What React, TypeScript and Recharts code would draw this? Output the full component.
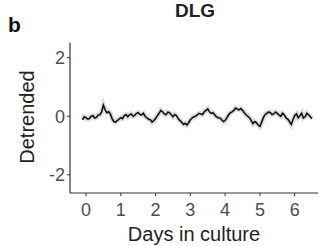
import React from 'react';
import { LineChart, Line, XAxis, YAxis } from 'recharts';

const days = [
  -0.1, -0.05, 0.0, 0.05, 0.1, 0.15, 0.2, 0.25, 0.3, 0.35, 0.4, 0.45, 0.5, 0.55, 0.6, 0.65, 0.7, 0.75, 0.8, 0.85, 0.9, 0.95,
  1.0, 1.05, 1.1, 1.15, 1.2, 1.25, 1.3, 1.35, 1.4, 1.45, 1.5, 1.55, 1.6, 1.65, 1.7, 1.75, 1.8, 1.85, 1.9, 1.95,
  2.0, 2.05, 2.1, 2.15, 2.2, 2.25, 2.3, 2.35, 2.4, 2.45, 2.5, 2.55, 2.6, 2.65, 2.7, 2.75, 2.8, 2.85, 2.9, 2.95,
  3.0, 3.05, 3.1, 3.15, 3.2, 3.25, 3.3, 3.35, 3.4, 3.45, 3.5, 3.55, 3.6, 3.65, 3.7, 3.75, 3.8, 3.85, 3.9, 3.95,
  4.0, 4.05, 4.1, 4.15, 4.2, 4.25, 4.3, 4.35, 4.4, 4.45, 4.5, 4.55, 4.6, 4.65, 4.7, 4.75, 4.8, 4.85, 4.9, 4.95,
  5.0, 5.05, 5.1, 5.15, 5.2, 5.25, 5.3, 5.35, 5.4, 5.45, 5.5, 5.55, 5.6, 5.65, 5.7, 5.75, 5.8, 5.85, 5.9, 5.95,
  6.0, 6.05, 6.1, 6.15, 6.2, 6.25, 6.3, 6.35, 6.4, 6.45, 6.5,
];

const detrended = [
  -0.12, -0.02, -0.05, -0.1, -0.08, 0.0, 0.02, -0.06, -0.04, 0.04, 0.05, 0.15, 0.38, 0.22, 0.12, 0.15, 0.08, -0.08, -0.18, -0.2, -0.15, -0.1,
  -0.05, -0.08, 0.02, 0.06, -0.02, 0.05, 0.08, 0.0, 0.03, 0.1, 0.12, 0.06, 0.05, 0.1, 0.0, -0.06, -0.1, -0.12, -0.2, -0.15,
  -0.08, 0.02, 0.1, 0.2, 0.15, 0.08, 0.05, 0.14, 0.12, 0.05, -0.02, 0.06, 0.02, -0.08, -0.15, -0.2, -0.28, -0.24, -0.3, -0.22,
  -0.12, -0.06, -0.02, 0.0, 0.05, 0.1, 0.08, 0.06, 0.15, 0.2, 0.25, 0.15, 0.1, 0.12, 0.05, -0.02, -0.05, -0.06, -0.12, -0.18,
  -0.15, -0.05, 0.05, 0.12, 0.15, 0.2, 0.28, 0.24, 0.22, 0.26, 0.2, 0.12, 0.05, 0.0, -0.05, -0.15, -0.25, -0.18, -0.22, -0.3,
  -0.35, -0.2, -0.05, 0.06, 0.1, 0.15, 0.12, 0.06, 0.08, 0.14, 0.1, 0.04, 0.0, 0.1, 0.05, -0.06, -0.1, -0.18, -0.28, -0.12,
  0.02, 0.08, -0.05, 0.02, 0.1, -0.06, -0.02, 0.1, 0.05, -0.02, -0.08,
];

const xTicks = [0, 1, 2, 3, 4, 5, 6];
const yTicks = [-2, 0, 2];

const data = days.map((d, i) => ({ day: d, value: detrended[i] }));

const FONT = '"Liberation Sans", Arial, sans-serif';

export default function App() {
  return (
    <div style={{ position: 'absolute', left: 0, top: 0, width: 319, height: 246, background: '#fff' }}>
      <LineChart
        width={319}
        height={246}
        data={data}
        margin={{ top: 43, right: 1, bottom: 0, left: 0 }}
        style={{ fontFamily: FONT }}
      >
        <XAxis
          dataKey="day"
          type="number"
          domain={[-0.46, 6.67]}
          allowDataOverflow
          ticks={xTicks}
          height={53}
          tickSize={3}
          tickMargin={7}
          axisLine={{ stroke: '#333', strokeWidth: 1.2 }}
          tickLine={{ stroke: '#333' }}
          tick={{ fill: '#4d4d4d', fontSize: 18, fontFamily: FONT }}
          label={{ value: 'Days in culture', position: 'insideBottom', offset: 5, fill: '#222', fontSize: 20, fontFamily: FONT }}
        />
        <YAxis
          type="number"
          domain={[-2.62, 2.5]}
          allowDataOverflow
          ticks={yTicks}
          width={70}
          tickSize={3}
          tickMargin={2}
          axisLine={{ stroke: '#333', strokeWidth: 1.2 }}
          tickLine={{ stroke: '#333' }}
          tick={{ fill: '#4d4d4d', fontSize: 18, fontFamily: FONT }}
        />
        <Line
          dataKey="value"
          stroke="#dcdcdc"
          strokeWidth={5}
          dot={false}
          isAnimationActive={false}
        />
        <Line
          dataKey="value"
          stroke="#111"
          strokeWidth={1.6}
          dot={false}
          isAnimationActive={false}
        />
      </LineChart>
      <svg
        width={319}
        height={246}
        style={{ position: 'absolute', left: 0, top: 0, pointerEvents: 'none' }}
      >
        <text x={195} y={17} textAnchor="middle" fontFamily={FONT} fontWeight="bold" fontSize={19} fill="#222">
          DLG
        </text>
        <text x={8} y={32} fontFamily={FONT} fontWeight="bold" fontSize={21} fill="#111">
          b
        </text>
        <text
          x={34}
          y={117}
          textAnchor="middle"
          transform="rotate(-90 34 117)"
          fontFamily={FONT}
          fontSize={20}
          fill="#222"
        >
          Detrended
        </text>
      </svg>
    </div>
  );
}
